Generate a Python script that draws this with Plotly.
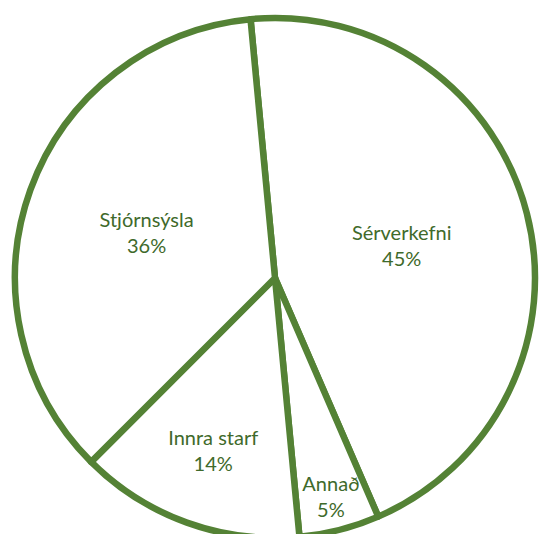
import plotly.graph_objects as go

labels = ["Sérverkefni", "Annað", "Innra starf", "Stjórnsýsla"]
values = [45, 5, 14, 36]

LINE_GREEN = "#548235"
TEXT_GREEN = "#3F6A2B"

fig = go.Figure(
    go.Pie(
        labels=labels,
        values=values,
        sort=False,
        direction="clockwise",
        rotation=-5.4,
        marker=dict(colors=["white"] * len(values), line=dict(color=LINE_GREEN, width=6.5)),
        textinfo="label+percent",
        texttemplate="%{label}<br>%{percent:.0%}",
        textposition="inside",
        insidetextorientation="horizontal",
        textfont=dict(family="Lato, Open Sans, sans-serif", size=20, color=TEXT_GREEN),
        showlegend=False,
        hoverinfo="skip",
    )
)

fig.update_layout(
    width=542,
    height=538,
    margin=dict(l=15, r=7, t=18, b=0),
    paper_bgcolor="white",
    plot_bgcolor="white",
    uniformtext=dict(minsize=19, mode="show"),
)

fig.write_html(
    "out.html",
    config={"displayModeBar": False},
    post_script="document.body.style.margin='0';document.body.style.overflow='hidden';document.documentElement.style.overflow='hidden';",
)
